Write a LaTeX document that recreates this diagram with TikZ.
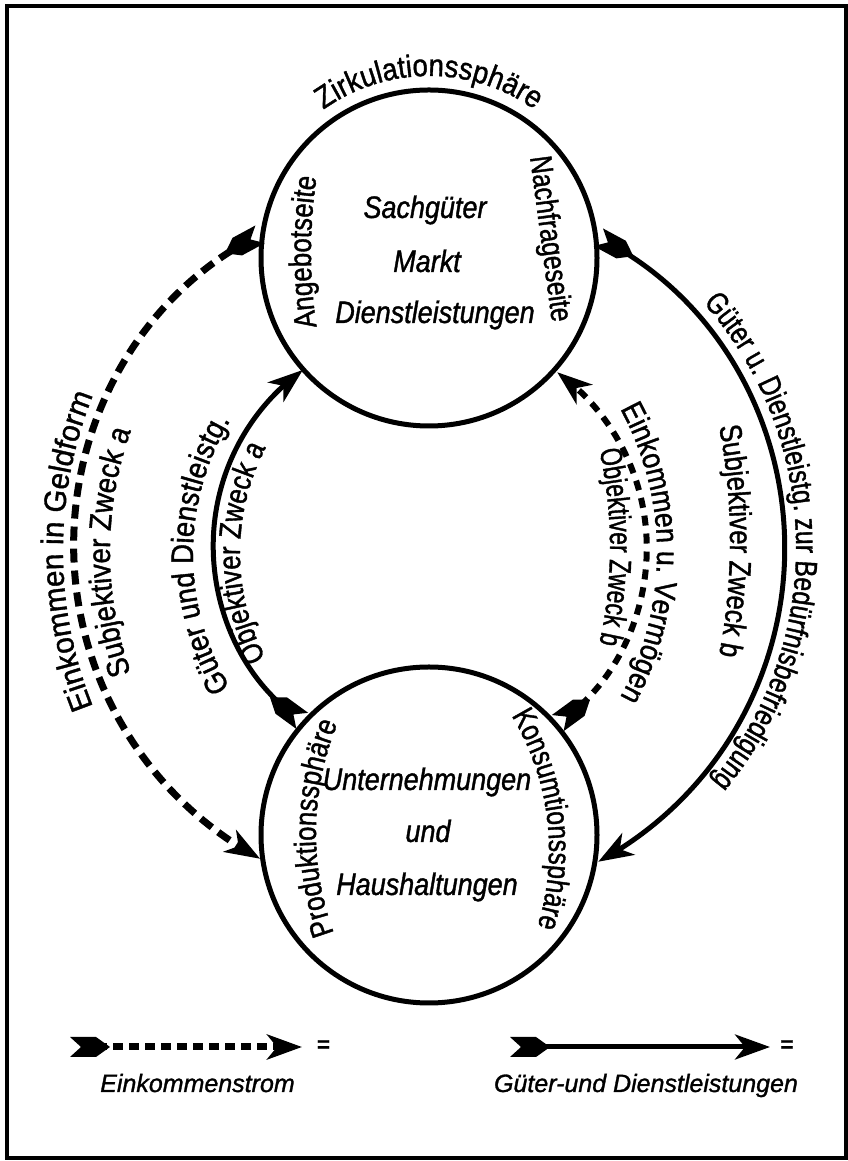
\documentclass[tikz,border=0pt]{standalone}
\usepackage{fontspec}
\setmainfont{Liberation Sans}
\newfontfamily\fsA{Liberation Sans}[FakeStretch=0.74,FakeBold=1.2]
\newfontfamily\fsB{Liberation Sans}[FakeStretch=0.80,FakeBold=1.2]
\newfontfamily\fsC{Liberation Sans}[FakeStretch=0.83,FakeBold=1.2]
\newfontfamily\fsD{Liberation Sans}[FakeStretch=0.86,FakeBold=1.2]
\newfontfamily\fsE{Liberation Sans}[FakeStretch=0.89,FakeBold=1.2]
\newfontfamily\fsF{Liberation Sans}[FakeStretch=0.96,FakeBold=1.2]
\newfontfamily\fsI{Liberation Sans}[FakeStretch=0.87,FakeBold=1.2]
\newfontfamily\fsL{Liberation Sans}[FakeBold=1.2]
\usetikzlibrary{arrows.meta,bending,decorations.text,decorations.markings}
\newcommand\sz{\fontsize{31}{37}\selectfont}
\newcommand\fletch{\fill[black] (0pt,10pt) -- (26pt,10pt) -- (40pt,0pt) -- (26pt,-10pt) -- (0pt,-10pt) -- (11pt,0pt) -- cycle;}
\begin{document}
\begin{tikzpicture}[x=1pt,y=1pt,
  ring/.style={circle, draw, line width=5pt, minimum size=336pt, inner sep=0pt},
  flow/.style={line width=5pt, shorten <=11pt,
     -{Stealth[length=35pt,width=25pt,inset=10pt]},
     postaction={decorate, decoration={markings, mark=at position 0pt with {\fletch}}}},
  dashA/.style={flow, line width=7pt, dash pattern=on 14pt off 8pt},
  dashB/.style={flow, line width=6pt, dash pattern=on 10pt off 8pt},
  dashL/.style={flow, line width=7pt, dash pattern=on 10pt off 6pt},
  lbl/.style={decorate, decoration={text along path, text={#1}, text align=center}},
  ctr/.style={anchor=base, font=\fsI\itshape\sz, inner sep=0pt},
  leg/.style={anchor=base, font=\fsL\itshape\fontsize{25}{30}\selectfont, inner sep=0pt},
  eqs/.style={font=\fsL\bfseries\fontsize{22}{22}\selectfont, inner sep=0pt}
]
\useasboundingbox (0,0) rectangle (847,1161);
\draw[line width=4pt] (6.5,1154.5) rectangle (845.5,2.5);

% circles
\node[ring] (mkt) at (429,903) {};
\node[ring] (pes) at (429,326) {};

% centre texts
\node[ctr] (s1) at (425,943) {Sachgüter};
\node[ctr] (s2) at (427,889) {Markt};
\node[ctr] (s3) at (435,838) {Dienstleistungen};
\node[ctr] (u1) at (427,371) {Unternehmungen};
\node[ctr] (u2) at (428,319) {und};
\node[ctr] (u3) at (427,266) {Haushaltungen};

% circle labels
\path[lbl={|\fsE\sz|Zirkulationssphäre}] ([shift={(429,903)}]150:182pt) arc[start angle=150, end angle=30, radius=182pt];
\path[lbl={|\fsC\sz|Angebotseite}] ([shift={(811,909)}]198:500pt) arc[start angle=198, end angle=162, radius=500pt];
\path[lbl={|\fsB\sz|Nachfrageseite}] (526,1034) -- (556,808);
\path[lbl={|\fsC\sz|Produktionssphäre}] ([shift={(604,328)}]209:288pt) arc[start angle=209, end angle=149, radius=288pt];
\path[lbl={|\fsB\sz|Konsumtionssphäre}] ([shift={(290,311)}]47:259pt) arc[start angle=47, end angle=-33, radius=259pt];

% connectors
\draw[dashA] (mkt.172.1) arc[start angle=118.4, end angle=241.6, radius=355pt];
\draw[flow] (mkt.7.9) arc[start angle=61.6, end angle=-61.6, radius=355pt];
\draw[flow] (pes.138.6) arc[start angle=233.88, end angle=125.95, radius=217pt];
\draw[dashB] (pes.41.4) arc[start angle=-53.88, end angle=54.05, radius=217pt];

% connector labels
\path[lbl={|\fsF\sz|Einkommen in Geldform}] ([shift={(481,610)}]210:418pt) arc[start angle=210, end angle=150, radius=418pt];
\path[lbl={|\fsE\sz|Subjektiver Zweck a}] ([shift={(469,609)}]210:359pt) arc[start angle=210, end angle=150, radius=359pt];
\path[lbl={|\fsE\sz|Güter und Dienstleistg.}] ([shift={(450,607)}]220:257pt) arc[start angle=220, end angle=140, radius=257pt];
\path[lbl={|\fsC\sz|Objektiver Zweck a}] ([shift={(467,608)}]215:227pt) arc[start angle=215, end angle=145, radius=227pt];
\path[lbl={|\fsD\sz|Einkommen u. Vermögen}] ([shift={(357,608)}]40:300pt) arc[start angle=40, end angle=-40, radius=300pt];
\path[lbl={|\fsA\sz|Objektiver Zweck b}] ([shift={(168,614)}]20:442pt) arc[start angle=20, end angle=-20, radius=442pt];
\path[lbl={|\fsC\sz|Subjektiver Zweck b}] ([shift={(130,620)}]15:600pt) arc[start angle=15, end angle=-15, radius=600pt];
\path[lbl={|\fsB\sz|Güter u. Dienstleistg. zur Bedürfnisbefriedigung}] ([shift={(429,614)}]60:367pt) arc[start angle=60, end angle=-58, radius=367pt];

% legend
\coordinate (la) at (70,114);
\coordinate (lb) at (302,114);
\coordinate (ra) at (510,114);
\coordinate (rb) at (770,114);
\draw[dashL] (la) -- (lb);
\draw[flow] (ra) -- (rb);
\node[eqs] (e1) at (323.5,115) {=};
\node[eqs] (e2) at (787,115) {=};
\node[leg] (t1) at (197.5,69) {Einkommenstrom};
\node[leg] (t2) at (646,69) {Güter-und Dienstleistungen};
\end{tikzpicture}
\end{document}
